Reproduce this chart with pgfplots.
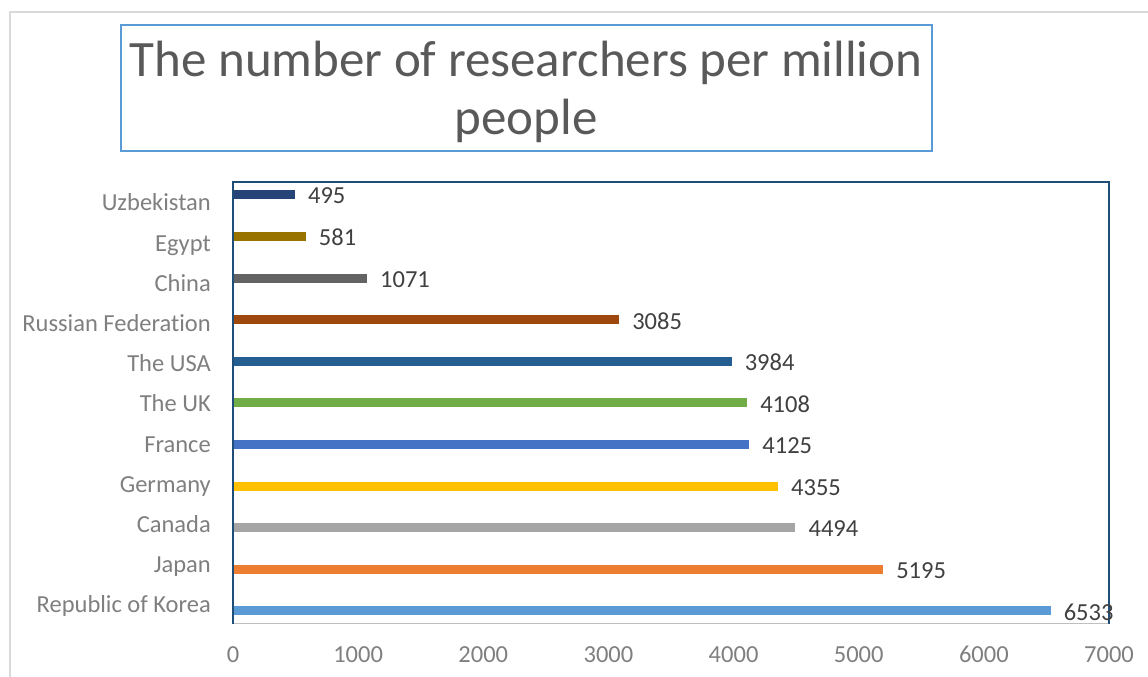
\documentclass[border=0pt]{standalone}
\usepackage{pgfplots}
\pgfplotsset{compat=1.18}
\usepackage{fontspec}
\setmainfont[Ligatures=NoCommon]{Carlito}

\definecolor{cKorea}{HTML}{5B9BD5}
\definecolor{cJapan}{HTML}{ED7D31}
\definecolor{cCanada}{HTML}{A5A5A5}
\definecolor{cGermany}{HTML}{FFC000}
\definecolor{cFrance}{HTML}{4472C4}
\definecolor{cUK}{HTML}{70AD47}
\definecolor{cUSA}{HTML}{255E91}
\definecolor{cRussia}{HTML}{9E480E}
\definecolor{cChina}{HTML}{636363}
\definecolor{cEgypt}{HTML}{997300}
\definecolor{cUzbek}{HTML}{264478}
\definecolor{frame}{HTML}{1F4E79}
\definecolor{txt}{HTML}{595959}
\definecolor{tick}{HTML}{7F7F7F}
\definecolor{val}{HTML}{404040}

\pgfplotsset{
  bar/.style={xbar, bar width=9pt, bar shift=0pt, draw=none, fill=#1},
}

\begin{document}
\begin{tikzpicture}
% outer chart frame
\draw[color=black!15, line width=1.2pt] (10pt,-5pt) -- (10pt,665pt) -- (1160pt,665pt);
% title box
\draw[color=cKorea, line width=1.5pt] (121pt,526pt) rectangle (932pt,652pt);
\node[align=center, font=\fontsize{51}{58}\selectfont, text=txt, inner sep=0pt]
  at (526pt,585pt) {The number of researchers per million\\people};

\begin{axis}[
  at={(233pt,53pt)}, anchor=south west,
  scale only axis, width=876pt, height=442pt,
  xmin=0, xmax=7000,
  ymin=-0.3125, ymax=10.3125,
  axis line style={draw=none},
  xtick={0,1000,2000,3000,4000,5000,6000,7000},
  ytick={0.168,1.134,2.101,3.067,4.034,5.0,5.966,6.933,7.899,8.866,9.832},
  yticklabels={Republic of Korea,Japan,Canada,Germany,France,The UK,The USA,Russian Federation,China,Egypt,Uzbekistan},
  major tick length=0pt,
  /pgf/number format/assume math mode=true,
  /pgf/number format/1000 sep={},
  tick label style={font=\fontsize{24.5}{28}\selectfont, text=tick, inner sep=0pt},
  yticklabel style={xshift=-22pt, yshift=-6pt, anchor=east, text height=1.4ex, text depth=0.2ex},
  xticklabel style={yshift=-22pt},
  point meta=x,
  nodes near coords,
  nodes near coords style={font=\fontsize{24.5}{28}\selectfont, text=val, anchor=west, inner sep=0pt, xshift=13pt, yshift=-1pt},
  clip=false,
]
\addplot[bar=cKorea]   coordinates {(6533,0)};
\addplot[bar=cJapan]   coordinates {(5195,1)};
\addplot[bar=cCanada]  coordinates {(4494,2)};
\addplot[bar=cGermany] coordinates {(4355,3)};
\addplot[bar=cFrance]  coordinates {(4125,4)};
\addplot[bar=cUK]      coordinates {(4108,5)};
\addplot[bar=cUSA]     coordinates {(3984,6)};
\addplot[bar=cRussia]  coordinates {(3085,7)};
\addplot[bar=cChina]   coordinates {(1071,8)};
\addplot[bar=cEgypt]   coordinates {(581,9)};
\addplot[bar=cUzbek]   coordinates {(495,10)};
% plot area border
\draw[color=black!25, line width=1pt] (rel axis cs:0,0) -- (rel axis cs:1,0);
\draw[color=frame, line width=1.3pt] (rel axis cs:0,0) -- (rel axis cs:0,1) -- (rel axis cs:1,1) -- (rel axis cs:1,0);
\end{axis}
\pgfresetboundingbox
\useasboundingbox (0,0) rectangle (1148pt,677pt);
\end{tikzpicture}
\end{document}
